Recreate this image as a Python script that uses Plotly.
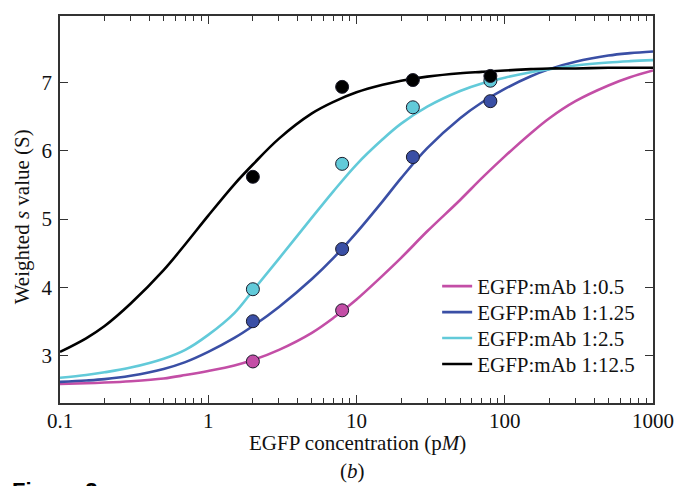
import plotly.graph_objects as go

# curve readings (x in pM)
curve_x = [0.1, 0.15, 0.2, 0.3, 0.5, 0.7, 1, 1.5, 2, 3, 5, 7, 10, 15, 20, 30, 50, 70,
           100, 150, 200, 300, 500, 700, 1000]
curve_black = [3.05, 3.25, 3.43, 3.76, 4.25, 4.63, 5.05, 5.51, 5.80, 6.18, 6.55, 6.72, 6.86,
               6.97, 7.03, 7.09, 7.14, 7.16, 7.18, 7.20, 7.21, 7.21, 7.22, 7.22, 7.22]
curve_cyan = [2.67, 2.71, 2.75, 2.82, 2.95, 3.08, 3.30, 3.62, 3.95, 4.42, 5.02, 5.41, 5.80,
              6.17, 6.40, 6.65, 6.88, 6.99, 7.075, 7.155, 7.20, 7.253, 7.297, 7.317, 7.333]
curve_blue = [2.61, 2.63, 2.65, 2.70, 2.80, 2.90, 3.05, 3.255, 3.43, 3.71, 4.12, 4.43, 4.80,
              5.26, 5.60, 6.04, 6.48, 6.71, 6.91, 7.095, 7.20, 7.31, 7.40, 7.435, 7.46]
curve_magenta = [2.58, 2.59, 2.60, 2.62, 2.66, 2.71, 2.77, 2.85, 2.93, 3.08, 3.33, 3.55, 3.82,
                 4.17, 4.43, 4.82, 5.28, 5.60, 5.92, 6.26, 6.48, 6.73, 6.96, 7.08, 7.18]

# measured points
pts_x = [2, 8, 24, 80]
pts_black = [5.62, 6.94, 7.04, 7.10]
pts_cyan = [3.97, 5.81, 6.64, 7.03]
pts_blue = [3.50, 4.56, 5.91, 6.73]
pts_magenta_x = [2, 8]
pts_magenta = [2.91, 3.66]

x_tickvals = [0.1, 1, 10, 100, 1000]
x_ticktext = ["0.1", "1", "10", "100", "1000"]
y_tickvals = [3, 4, 5, 6, 7]

labels = ["EGFP:mAb 1:0.5", "EGFP:mAb 1:1.25", "EGFP:mAb 1:2.5", "EGFP:mAb 1:12.5"]
colors = ["#C34EA6", "#3A4FA5", "#62CAD9", "#000000"]

SERIF = "Liberation Serif, Times New Roman, serif"
FS = 21

fig = go.Figure()
curves = [curve_magenta, curve_blue, curve_cyan, curve_black]
legend_ids = ["legend", "legend2", "legend3", "legend4"]
for lab, col, cy, lg in zip(labels, colors, curves, legend_ids):
    fig.add_trace(go.Scatter(x=curve_x, y=cy, mode="lines", name=lab, legend=lg,
                             line=dict(color=col, width=2.6, shape="spline", smoothing=1.0)))

points = [(pts_magenta_x, pts_magenta), (pts_x, pts_blue), (pts_x, pts_cyan), (pts_x, pts_black)]
for col, (px, py) in zip(colors, points):
    fig.add_trace(go.Scatter(x=px, y=py, mode="markers", showlegend=False,
                             marker=dict(size=13, color=col,
                                         line=dict(color="#1a1a2a", width=1))))

axis_common = dict(showline=True, linecolor="#333333", linewidth=1.5, mirror="allticks",
                   ticks="inside", ticklen=8, tickwidth=1.2, tickcolor="#333333",
                   showgrid=False, zeroline=False,
                   tickfont=dict(family=SERIF, size=FS, color="#111111"))

fig.update_xaxes(type="log", range=[-1, 3], tickvals=x_tickvals, ticktext=x_ticktext,
                 ticklabelstandoff=-2,
                 minor=dict(ticks="inside", ticklen=5, tickwidth=1.2, tickcolor="#333333",
                            dtick="D1", showgrid=False),
                 **axis_common)
fig.update_yaxes(range=[2.3, 7.98], tickvals=y_tickvals, ticklabelstandoff=2, **axis_common)

legend_rows_y = [0.301, 0.234, 0.167, 0.100]
legend_style = dict(x=0.636, xanchor="left", yanchor="middle", bgcolor="rgba(0,0,0,0)",
                    borderwidth=0, font=dict(family=SERIF, size=FS, color="#111111"))

fig.update_layout(
    width=674, height=478,
    margin=dict(l=52, r=29, t=6, b=83),
    plot_bgcolor="white", paper_bgcolor="white",
    font=dict(family=SERIF, size=FS, color="#111111"),
    legend=dict(y=legend_rows_y[0], **legend_style),
    legend2=dict(y=legend_rows_y[1], **legend_style),
    legend3=dict(y=legend_rows_y[2], **legend_style),
    legend4=dict(y=legend_rows_y[3], **legend_style),
    annotations=[
        dict(text="EGFP concentration (p<i>M</i>)", x=0.502, y=-0.103, xref="paper", yref="paper",
             xanchor="center", yanchor="middle",
             showarrow=False, font=dict(family=SERIF, size=FS, color="#111111")),
        dict(text="Weighted <i>s</i> value (S)", x=-0.064, y=0.48, xref="paper", yref="paper",
             xanchor="center", yanchor="middle",
             textangle=-90, showarrow=False, font=dict(family=SERIF, size=FS, color="#111111")),
        dict(text="(<i>b</i>)", x=0.493, y=-0.175, xref="paper", yref="paper",
             xanchor="center", yanchor="middle",
             showarrow=False, font=dict(family=SERIF, size=FS, color="#111111")),
        dict(text="<b>Figure 2</b>", x=-0.084, y=-0.188, xref="paper", yref="paper",
             xanchor="left", yanchor="top", showarrow=False,
             font=dict(family="Liberation Sans, Arial, sans-serif", size=22, color="#000000")),
    ],
)

fig.write_html("out.html")
